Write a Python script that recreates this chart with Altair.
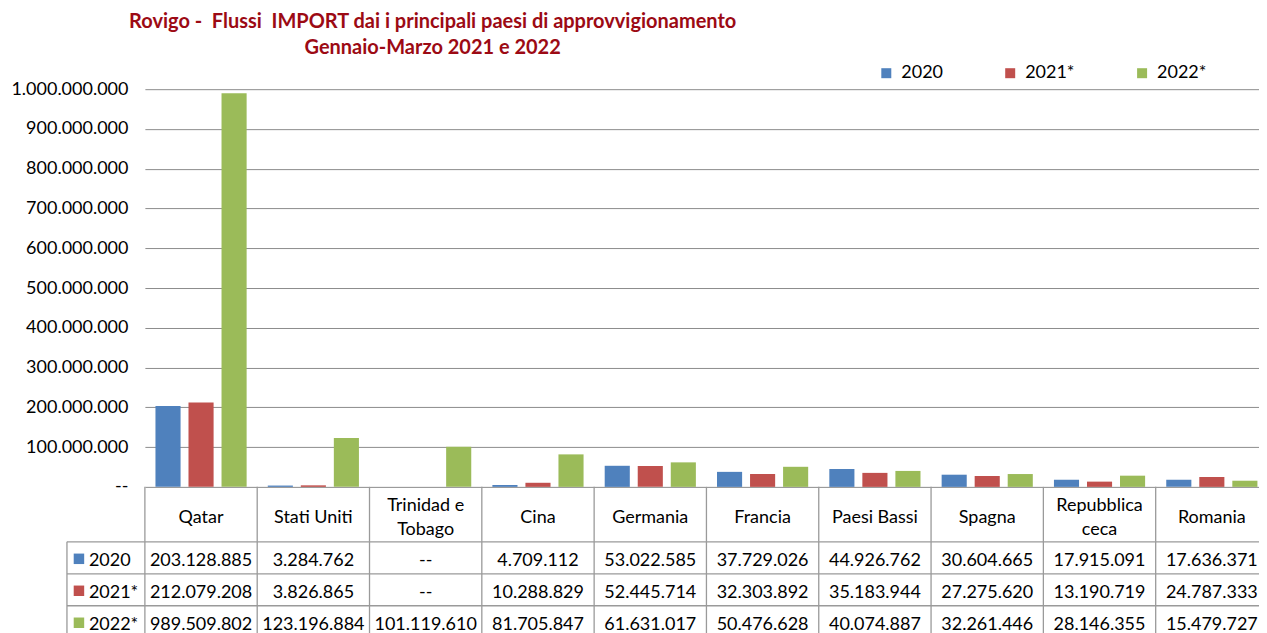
import altair as alt
import pandas as pd

countries = ["Qatar", "Stati Uniti", "Trinidad e Tobago", "Cina", "Germania",
             "Francia", "Paesi Bassi", "Spagna", "Repubblica ceca", "Romania"]
header_labels = ["Qatar", "Stati Uniti", "Trinidad e\nTobago", "Cina", "Germania",
                 "Francia", "Paesi Bassi", "Spagna", "Repubblica\nceca", "Romania"]
series = ["2020", "2021*", "2022*"]
v2020 = [203128885, 3284762, None, 4709112, 53022585, 37729026, 44926762, 30604665, 17915091, 17636371]
v2021 = [212079208, 3826865, None, 10288829, 52445714, 32303892, 35183944, 27275620, 13190719, 24787333]
v2022 = [989509802, 123196884, 101119610, 81705847, 61631017, 50476628, 40074887, 32261446, 28146355, 15479727]
colors = ["#4F81BD", "#C0504D", "#9BBB59"]
y_ticks = [i * 100000000 for i in range(11)]

FONT = "Lato"
GRID = "#8C8C8C"
BORDER = "#9A9A9A"


def fmt(v):
    return "--" if v is None else f"{v:,}".replace(",", ".")


rows = []
for s, vals in zip(series, [v2020, v2021, v2022]):
    for c, v in zip(countries, vals):
        rows.append({"country": c, "series": s, "value": v, "label": fmt(v)})
df = pd.DataFrame(rows)
hdr = pd.DataFrame({"country": countries, "header": header_labels})
hdr["lines"] = hdr["header"].str.count("\n") + 1
ser = pd.DataFrame({"series": series})

W = 1124
HH = 55
RH = 32
xenc = alt.X("country:N", sort=countries,
             scale=alt.Scale(paddingInner=0, paddingOuter=0), axis=None)
xedge = alt.X("country:N", sort=countries, bandPosition=0,
              scale=alt.Scale(paddingInner=0, paddingOuter=0), axis=None)
cscale = alt.Scale(domain=series, range=colors)

bars = alt.Chart(df).mark_bar().encode(
    x=xenc,
    xOffset=alt.XOffset("series:N", sort=series,
                        scale=alt.Scale(paddingInner=0.24, paddingOuter=0.32)),
    y=alt.Y("value:Q", scale=alt.Scale(domain=[0, 1000000000], nice=False),
            axis=alt.Axis(values=y_ticks, title=None, domain=False, ticks=False,
                          grid=True, gridColor=GRID, gridWidth=1,
                          labelFont=FONT, labelFontSize=18, labelColor="#000",
                          labelPadding=17, minExtent=137, maxExtent=137,
                          labelExpr="datum.value == 0 ? '--' : replace(format(datum.value, ','), regexp(',', 'g'), '.')")),
    color=alt.Color("series:N", sort=series, scale=cscale,
                    legend=alt.Legend(title=None, orient="none", direction="horizontal",
                                      columns=3, legendX=733, legendY=-25,
                                      symbolType="square", symbolSize=100,
                                      symbolStrokeWidth=0, labelFont=FONT,
                                      labelFontSize=18, labelColor="#000",
                                      labelOffset=6, columnPadding=58, padding=0)),
).properties(width=W, height=398)

# Header row of the table
hdr_one = alt.Chart(hdr).transform_filter("datum.lines == 1").mark_text(
    font=FONT, fontSize=18, color="#000", baseline="middle").encode(
    x=xenc, y=alt.value(HH / 2 + 4), text="header:N")
hdr_two = alt.Chart(hdr).transform_filter("datum.lines == 2").mark_text(
    font=FONT, fontSize=18, color="#000", baseline="middle", lineBreak="\n",
    lineHeight=24).encode(
    x=xenc, y=alt.value(HH / 2 - 8), text="header:N")
hdr_vlines = alt.Chart(hdr).mark_rule(color=BORDER, strokeWidth=1.3).encode(
    x=xedge, y=alt.value(0), y2=alt.value(HH))
header = alt.layer(hdr_vlines, hdr_one, hdr_two).properties(width=W, height=HH)

# Value rows of the table
yenc = alt.Y("series:N", sort=series, scale=alt.Scale(paddingInner=0, paddingOuter=0), axis=None)
val_text = alt.Chart(df).mark_text(font=FONT, fontSize=18, color="#000",
                                   baseline="middle", dy=3).encode(
    x=xenc, y=yenc, text="label:N")
val_vlines = alt.Chart(hdr).mark_rule(color=BORDER, strokeWidth=1.3).encode(
    x=xedge, y=alt.value(0), y2=alt.value(3 * RH))
val_edges = alt.Chart(pd.DataFrame({"e": [-78, W]})).mark_rule(
    color=BORDER, strokeWidth=1.3).encode(x=alt.X("e:Q", scale=None),
                                          y=alt.value(0), y2=alt.value(3 * RH))
val_hlines = alt.Chart(ser).mark_rule(color=BORDER, strokeWidth=1.3).encode(
    y=alt.Y("series:N", sort=series, bandPosition=0,
            scale=alt.Scale(paddingInner=0, paddingOuter=0), axis=None),
    x=alt.value(-78), x2=alt.value(W))
val_sq = alt.Chart(ser).mark_square(size=110, opacity=1, yOffset=1).encode(
    y=yenc, x=alt.value(-66),
    color=alt.Color("series:N", sort=series, scale=cscale, legend=None))
val_lab = alt.Chart(ser).mark_text(font=FONT, fontSize=18, color="#000",
                                   align="left", baseline="middle", dy=3).encode(
    y=yenc, x=alt.value(-56), text="series:N")
values = alt.layer(val_hlines, val_vlines, val_edges, val_text, val_sq, val_lab).properties(
    width=W, height=3 * RH)

chart = alt.vconcat(bars, header, values, spacing=0, bounds="flush").properties(
    title=alt.TitleParams(
        ["Rovigo -\u00a0 Flussi\u00a0 IMPORT dai i principali paesi di approvvigionamento",
         "Gennaio-Marzo 2021 e 2022"],
        font=FONT, fontSize=20, fontWeight="bold", color="#9C0A14",
        anchor="start", align="center", dx=425, offset=6, lineHeight=26),
    padding={"left": 0, "top": 4, "right": -10, "bottom": 0},
).resolve_scale(color="shared").configure_view(stroke=None)

chart.save("out.html", embed_options={"renderer": "svg", "actions": False})
